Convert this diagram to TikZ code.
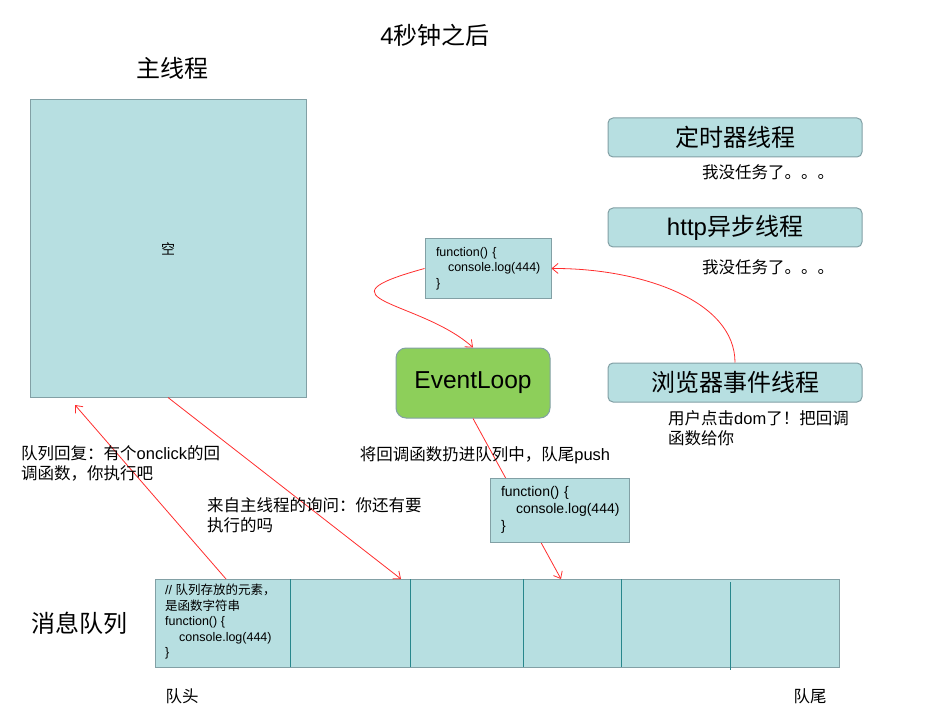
\documentclass[tikz,border=0pt]{standalone}
\usepackage{fontspec}
\setmainfont{Liberation Sans}
\newfontfamily\cjk{Noto Sans CJK SC}
\newcommand\zh[1]{{\cjk #1}}
\usetikzlibrary{arrows.meta,positioning}
\definecolor{cellfill}{RGB}{183,223,225}
\definecolor{celledge}{RGB}{130,160,165}
\definecolor{loopgreen}{RGB}{141,207,90}
\definecolor{divline}{RGB}{40,135,140}
\definecolor{arrred}{RGB}{255,45,45}

\begin{document}
\begin{tikzpicture}[x=1pt,y=-1pt,
  box/.style={draw=celledge,fill=cellfill,line width=1pt},
  thread/.style={box,rounded corners=5pt,minimum width=254pt,minimum height=39pt,inner sep=0pt,font=\fontsize{24}{28}\selectfont},
  code/.style={box,align=left,inner xsep=11pt,inner ysep=0pt,font=\fontsize{12.5}{15.5}\selectfont},
  note/.style={inner sep=0pt,align=left,font=\fontsize{16.5}{20}\selectfont},
  big/.style={inner sep=0pt,font=\fontsize{24}{28}\selectfont},
  arr/.style={draw=arrred,line width=0.8pt,-{Straight Barb[length=6pt,width=10pt]}}]
  \useasboundingbox (0,0) rectangle (934,727);

  % titles
  \node[big] (title) at (435,35) {4\zh{秒钟之后}};
  \node[big] (mainlabel) at (172,68) {\zh{主线程}};

  % main thread
  \node[box,minimum width=276pt,minimum height=297pt,font=\fontsize{14}{16}\selectfont] (main) at (168,248.5) {\zh{空}};

  % threads on the right
  \node[thread] (timer) at (735,137.5) {\zh{定时器线程}};
  \node[thread] (http) at (735,227.5) {http\zh{异步线程}};
  \node[thread] (browser) at (735,382.5) {\zh{浏览器事件线程}};
  \node[note,anchor=west] (idle1) at (702,172) {\zh{我没任务了。。。}};
  \node[note,anchor=west] (idle2) at (702,267) {\zh{我没任务了。。。}};
  \node[note,anchor=west] (click) at (668,428) {\zh{用户点击}dom\zh{了！把回调}\\\zh{函数给你}};

  % event loop
  \node[box,fill=loopgreen,rounded corners=10pt,minimum width=154pt,minimum height=70pt,font=\fontsize{24.5}{28}\selectfont] (loop) at (473,383) {EventLoop};
  \node[code,text width=104pt,minimum height=59pt] (cb1) at (488,268.5) {function() \{\\\hspace*{12pt}\mbox{console.log(444)}\\\}};

  % queue
  \node[box,minimum width=684pt,minimum height=88pt,inner sep=0pt] (queue) at (497,623) {};
  \foreach \x in {290,410,523,621}
    \draw[divline,line width=1pt] (\x,579) -- (\x,667);
  \draw[divline,line width=1pt] (730,582) -- (730,670);
  \node[inner sep=0pt,align=left,anchor=north west,font=\fontsize{12.5}{15.5}\selectfont] (head) at (165,584) {// \zh{队列存放的元素，}\\\zh{是函数字符串}\\function() \{\\\hspace*{14pt}console.log(444)\\\}};
  \node[big] (qlabel) [left=27pt of queue] {\zh{消息队列}};
  \node[note] (qhead) at (182,696) {\zh{队头}};
  \node[note] (qtail) at (810,696) {\zh{队尾}};

  \coordinate (qin) at (401,579);
  \coordinate (qout) at (226,579);
  \coordinate (qpush) at (561,579);
  \coordinate (mainin) at (75,405);

  % connectors
  \draw[arr] (browser.north) .. controls (735,300) and (640,268) .. (cb1.east);
  \draw[arr] (cb1.west) .. controls (310,300) and (420,300) .. (loop.north);
  \draw[arr] (loop.south) -- (qpush);
  \node[code,text width=117pt,minimum height=64pt,font=\fontsize{14}{17}\selectfont] (cb2) at (559.5,510) {function() \{\\\hspace*{15pt}\mbox{console.log(444)}\\\}};
  \draw[arr] (qout) -- (mainin);
  \draw[arr] (main.south) -- (qin);

  % labels
  \node[note] (pushlabel) at (485,455) {\zh{将回调函数扔进队列中，队尾}push};
  \node[note,anchor=west] (reply) at (21,463) {\zh{队列回复：有个}onclick\zh{的回}\\\zh{调函数，你执行吧}};
  \node[note,anchor=west] (ask) at (207,515) {\zh{来自主线程的询问：你还有要}\\\zh{执行的吗}};
\end{tikzpicture}
\end{document}
